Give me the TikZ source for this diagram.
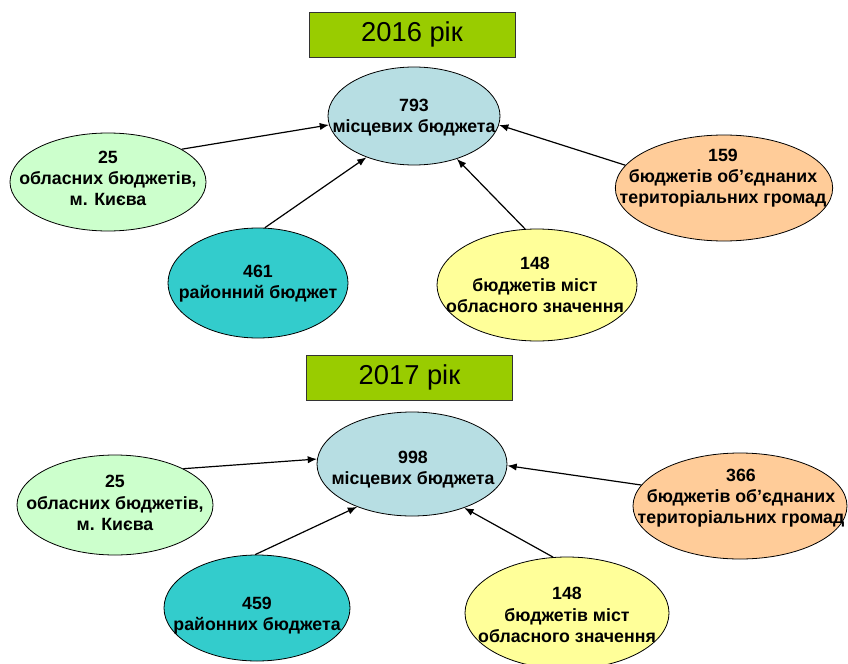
\documentclass[tikz,border=0pt]{standalone}
\usepackage{fontspec}
\setmainfont{Liberation Sans}
\usetikzlibrary{shapes.geometric,arrows.meta}
\definecolor{titlegreen}{HTML}{99CC00}
\definecolor{cblue}{HTML}{B7DEE3}
\definecolor{cgreen}{HTML}{CCFFCC}
\definecolor{cteal}{HTML}{33CCCC}
\definecolor{cyellow}{HTML}{FFFF99}
\definecolor{corange}{HTML}{FFCC99}
\tikzset{
  titlebox/.style={draw=black!80, line width=0.6pt, fill=titlegreen, minimum width=154.5pt, minimum height=33.75pt, inner sep=0pt, font=\fontsize{20.5}{24}\selectfont},
  ell/.style 2 args={ellipse, draw=black, line width=0.6pt, fill=#1, minimum width=#2, inner sep=0pt},
  txt/.style={align=center, font=\bfseries\fontsize{13.3}{16}\selectfont, inner sep=0pt},
  arr/.style={draw=black, line width=0.9pt, -{Latex[length=7pt,width=5.5pt]}}
}
\begin{document}
\begin{tikzpicture}[x=0.75pt,y=-0.75pt]
\useasboundingbox (0,0) rectangle (848,663);
% ---------------- 2016 ----------------
\node[titlebox] (t1) at (412,34.5) {2016 рік};
\node[ell={cblue}{129pt}, minimum height=73.5pt] (c1) at (414,116) {};
\node[txt] (c1t) at (414,117.5) {793\\місцевих бюджета};
\node[ell={cgreen}{147pt}, minimum height=73.5pt] (l1) at (108,182) {};
\node[txt] (l1t) at (108,178.5) {25\\обласних бюджетів,\\м. Києва};
\node[ell={cteal}{135pt}, minimum height=82.5pt] (r1) at (258,283) {};
\node[txt] (r1t) at (258,283.5) {461\\районний бюджет};
\node[ell={cyellow}{150pt}, minimum height=84pt] (m1) at (537,285) {};
\node[txt] (m1t) at (535,285) {148\\бюджетів міст\\обласного значення};
\node[ell={corange}{163pt}, minimum height=79.5pt] (o1) at (724,188) {};
\node[txt] (o1t) at (723,178) {159\\бюджетів об’єднаних\\територіальних громад};
\draw[arr] (l1.24) -- (c1.186);
\draw[arr] (r1.83) -- (c1.221);
\draw[arr] (m1.102) -- (c1.315);
\draw[arr] (o1.167) -- (c1.354);
% ---------------- 2017 ----------------
\node[titlebox] (t2) at (409.5,377.5) {2017 рік};
\node[ell={cblue}{142.5pt}, minimum height=78pt] (c2) at (412,464) {};
\node[txt] (c2t) at (413,469.5) {998\\місцевих бюджета};
\node[ell={cgreen}{147pt}, minimum height=75pt] (l2) at (115,505) {};
\node[txt] (l2t) at (115,503) {25\\обласних бюджетів,\\м. Києва};
\node[ell={cteal}{139.5pt}, minimum height=79.5pt] (r2) at (257,608) {};
\node[txt] (r2t) at (257,615.5) {459\\районних бюджета};
\node[ell={cyellow}{153pt}, minimum height=84pt] (m2) at (567,613) {};
\node[txt] (m2t) at (567,615) {148\\бюджетів міст\\обласного значення};
\node[ell={corange}{160.5pt}, minimum height=79.5pt] (o2) at (740,506) {};
\node[txt] (o2t) at (741,498) {366\\бюджетів об’єднаних\\територіальних громад};
\draw[arr] (l2.28) -- (c2.177);
\draw[arr] (r2.92) -- (c2.218);
\draw[arr] (m2.104) -- (c2.320);
\draw[arr] (o2.168) -- (c2.359);
\end{tikzpicture}
\end{document}
